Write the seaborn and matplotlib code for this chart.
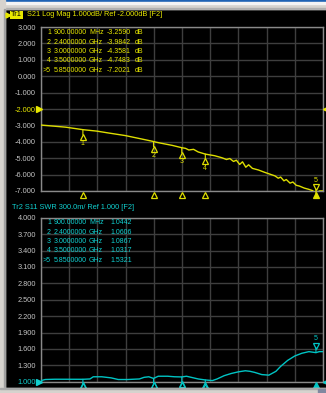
import numpy as np
import pandas as pd
import matplotlib
matplotlib.use("Agg")
import matplotlib.pyplot as plt
import seaborn as sns
from matplotlib import transforms
from matplotlib.patches import Rectangle

# ---------------- data ----------------
s21_freq = [0.01, 0.3, 0.54, 0.9, 1.2, 1.46, 1.8, 2.1, 2.38, 2.45, 2.55, 2.8, 3.0, 3.08,
            3.15, 3.25, 3.35, 3.5, 3.7, 3.85, 3.95, 4.02, 4.1, 4.16, 4.23, 4.29, 4.36,
            4.42, 4.5, 4.63, 4.75, 4.9, 4.98, 5.05, 5.1, 5.17, 5.22, 5.3, 5.36, 5.43,
            5.5, 5.6, 5.7, 5.78, 5.85, 5.92, 6.0]
s21_db = [-2.98, -3.05, -3.11, -3.26, -3.35, -3.47, -3.62, -3.80, -3.97, -4.02, -4.08,
          -4.22, -4.36, -4.40, -4.50, -4.46, -4.62, -4.75, -4.85, -4.97, -5.08, -5.02,
          -5.20, -5.12, -5.38, -5.22, -5.55, -5.40, -5.62, -5.72, -5.85, -6.00, -6.08,
          -6.22, -6.15, -6.38, -6.30, -6.52, -6.45, -6.65, -6.70, -6.82, -6.90, -6.98,
          -7.20, -7.00, -7.00]

s11_freq = [0.01, 0.1, 0.3, 0.9, 1.05, 1.12, 1.3, 1.5, 1.65, 1.85, 2.1, 2.2, 2.3, 2.4,
            2.5, 2.7, 2.85, 3.0, 3.1, 3.2, 3.35, 3.5, 3.65, 3.75, 3.9, 4.05, 4.2, 4.35,
            4.45, 4.55, 4.7, 4.85, 5.0, 5.1, 5.25, 5.4, 5.55, 5.7, 5.85, 5.92, 6.0]
s11_swr = [1.02, 1.04, 1.045, 1.044, 1.05, 1.09, 1.09, 1.07, 1.04, 1.04, 1.05, 1.08,
           1.09, 1.06, 1.10, 1.10, 1.09, 1.087, 1.10, 1.08, 1.05, 1.032, 1.02, 1.05,
           1.11, 1.15, 1.18, 1.20, 1.19, 1.17, 1.13, 1.12, 1.19, 1.28, 1.39, 1.47, 1.52,
           1.55, 1.532, 1.55, 1.55]

marker_ids = ["1", "2", "3", "4", "5"]
marker_idx_text = ["1", "2", "3", "4", ">5"]
marker_freq = [0.9, 2.4, 3.0, 3.5, 5.85]
marker_freq_text = ["900.00000", "2.4000000", "3.0000000", "3.5000000", "5.8500000"]
marker_unit = ["MHz", "GHz", "GHz", "GHz", "GHz"]
s21_marker_val = [-3.2590, -3.9842, -4.3581, -4.7483, -7.2021]
s11_marker_val = [1.0442, 1.0606, 1.0867, 1.0317, 1.5321]

s21_yticks = [3.0, 2.0, 1.0, 0.0, -1.0, -2.0, -3.0, -4.0, -5.0, -6.0, -7.0]
s11_yticks = [4.0, 3.7, 3.4, 3.1, 2.8, 2.5, 2.2, 1.9, 1.6, 1.3, 1.0]

title1 = "S21 Log Mag 1.000dB/ Ref -2.000dB [F2]"
title2 = "Tr2 S11 SWR 300.0m/ Ref 1.000 [F2]"

# ---------------- style ----------------
sns.set_style("dark")
plt.rcParams["font.family"] = ["Liberation Sans", "DejaVu Sans"]

YEL = "#dede00"
YEL_T = "#e8e800"
CYA = "#00c4c4"
CYA_T = "#10d0d0"
GRID = "#3e3e3e"
SPINE = "#8a8a8a"
TICK = "#c4c4c4"
FS = 5.0
FS_TITLE = 5.3
FS_TICK = 5.3

W, H = 326, 393
fig = plt.figure(figsize=(W / 100, H / 100), dpi=100, facecolor="black")


def frect(x0, y0, x1, y1):
    return [x0 / W, 1 - y1 / H, (x1 - x0) / W, (y1 - y0) / H]


def band(x0, y0, x1, y1, color):
    fig.patches.append(Rectangle((x0 / W, 1 - y1 / H), (x1 - x0) / W, (y1 - y0) / H,
                                 transform=fig.transFigure, color=color, zorder=0))


# window frame
band(0, 0, W, 9, "#d6d3ce")
band(0, 0, W, 1.6, "#1f63b4")
band(0, 1.6, W, 3.5, "#f4f4f4")
band(0, 7.5, W, 9, "#b0b0b0")
band(0, 0, 5, H, "#d6d3ce")
band(4, 9, 5, H, "#a0a0a0")
band(0, 388, W, H, "#d6d3ce")
band(0, 388, W, 389, "#a8a8a8")
band(318, 389, W, H, "#8088a0")


def fpt(x, y):
    return x / W, 1 - y / H


def setup(ax, yticks, ylim, ref_val, ref_col):
    ax.set_facecolor("black")
    ax.set_xlim(0.01, 6.0)
    ax.set_ylim(*ylim)
    ax.set_xticks(np.linspace(0.01, 6.0, 11))
    ax.set_xticklabels([])
    ax.set_yticks(yticks)
    ax.set_yticklabels(["%.3f" % v for v in yticks])
    ax.tick_params(length=0, pad=3.6, labelsize=FS_TICK, colors=TICK)
    for lab, v in zip(ax.get_yticklabels(), yticks):
        if abs(v - ref_val) < 1e-9:
            lab.set_color(ref_col)
    ax.grid(True, color=GRID, lw=1.0)
    for sp in ax.spines.values():
        sp.set_color(SPINE)
        sp.set_linewidth(1.0)
        sp.set_visible(True)
    ax.set_xlabel("")
    ax.set_ylabel("")
    tr = transforms.blended_transform_factory(ax.transAxes, ax.transData)
    ax.plot([0], [ref_val], marker=">", ms=4, color=ref_col, mec=ref_col,
            transform=transforms.offset_copy(tr, fig=fig, x=-2.5, y=0, units="dots"),
            clip_on=False, zorder=5)
    ax.plot([1], [ref_val], marker="<", ms=4, color=ref_col, mec=ref_col,
            transform=transforms.offset_copy(tr, fig=fig, x=2.5, y=0, units="dots"),
            clip_on=False, zorder=5)


def markers(ax, vals, col, bottom_off, below_labels=True):
    for i, (mid, f, v) in enumerate(zip(marker_ids, marker_freq, vals)):
        active = i == len(marker_ids) - 1
        sgn = 1 if active else -1
        ax.annotate("", xy=(f, v), xytext=(0, sgn * 5), textcoords="offset pixels",
                    arrowprops=dict(arrowstyle="-", color=col, lw=0.8, shrinkA=0, shrinkB=0),
                    annotation_clip=False)
        ax.plot([f], [v], marker="v" if active else "^", ms=4.5, mfc="none", mec=col, mew=0.9,
                transform=transforms.offset_copy(ax.transData, fig=fig, x=0, y=sgn * 7, units="dots"),
                clip_on=False, zorder=6)
        if active or below_labels:
            ax.annotate(mid, xy=(f, v), xytext=(0, sgn * 14), textcoords="offset pixels",
                        ha="center", va="center", color=col, fontsize=FS, annotation_clip=False)
        tb = transforms.blended_transform_factory(ax.transData, ax.transAxes)
        ax.plot([f], [0], marker="^", ms=4.5, mfc=col if active else "none", mec=col, mew=0.9,
                transform=transforms.offset_copy(tb, fig=fig, x=0, y=-bottom_off, units="dots"),
                clip_on=False, zorder=6)


def table(y0, vals, col, vx, unit_text):
    for i in range(len(marker_ids)):
        y = y0 + i * 9.3
        fig.text(*fpt(51, y), marker_idx_text[i], ha="right", va="center", color=col, fontsize=FS)
        fig.text(*fpt(54, y), marker_freq_text[i], ha="left", va="center", color=col, fontsize=FS)
        fig.text(*fpt(89, y), marker_unit[i], ha="left", va="center", color=col, fontsize=FS)
        fig.text(*fpt(vx, y), "%.4f" % vals[i], ha="left", va="center", color=col, fontsize=FS)
        if unit_text:
            fig.text(*fpt(135, y), unit_text, ha="left", va="center", color=col, fontsize=FS)


# ---------------- top panel: S21 ----------------
ax1 = fig.add_axes(frect(41, 27, 323, 191))
df1 = pd.DataFrame({"freq": s21_freq, "val": s21_db})
sns.lineplot(data=df1, x="freq", y="val", ax=ax1, color=YEL, lw=1.0, zorder=4)
setup(ax1, s21_yticks, (-7, 3), -2.0, YEL_T)
markers(ax1, s21_marker_val, YEL, 4)

# ---------------- bottom panel: S11 SWR ----------------
ax2 = fig.add_axes(frect(41, 217.7, 323, 381.7))
df2 = pd.DataFrame({"freq": s11_freq, "val": s11_swr})
sns.lineplot(data=df2, x="freq", y="val", ax=ax2, color=CYA, lw=1.0, zorder=4)
setup(ax2, s11_yticks, (1.0, 4.0), 1.0, CYA_T)
markers(ax2, s11_marker_val, CYA, 3.5, below_labels=False)

# ---------------- titles & tables ----------------
fig.text(*fpt(16.2, 15), "Tr1", ha="center", va="center", color="black", fontsize=FS_TITLE,
         bbox=dict(boxstyle="square,pad=0.12", fc=YEL_T, ec="none"))
fig.add_artist(plt.Line2D([8.3 / W], [1 - 15 / H], marker=">", ms=3.5, color=YEL_T,
                          transform=fig.transFigure))
fig.text(*fpt(27, 15), title1, ha="left", va="center", color=YEL_T, fontsize=FS_TITLE)
fig.text(*fpt(12, 208), title2, ha="left", va="center", color=CYA_T, fontsize=FS_TITLE)

table(33, s21_marker_val, YEL_T, 107, "dB")
table(223, s11_marker_val, CYA_T, 110, None)

fig.savefig("out.png", dpi=100, facecolor="black")
